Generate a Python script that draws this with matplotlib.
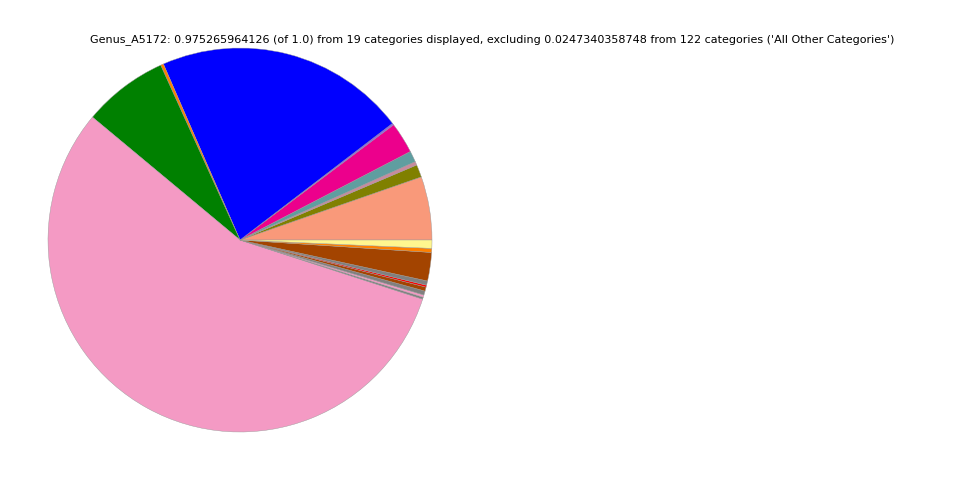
import matplotlib
matplotlib.use("Agg")
import matplotlib.pyplot as plt

# Dados (frações por categoria, sentido anti-horário a partir de 0°)
categorias = [f"Categoria_{i + 1}" for i in range(19)]
valores = [0.0520, 0.0103, 0.0030, 0.0091, 0.0255, 0.0014, 0.2062, 0.0024,
           0.0699, 0.5467, 0.0016, 0.0019, 0.0033, 0.0033, 0.0016, 0.0035,
           0.0233, 0.0033, 0.0068]
cores = ["#F9997A", "#808000", "#C88B9E", "#5F9EA0", "#EC008C", "#8A5CF0",
         "#0000FF", "#FF7F00", "#008000", "#F49AC4", "#808080", "#F49AC4",
         "#808080", "#A34400", "#FF0000", "#808080", "#A34400", "#FF8000",
         "#FFF68F"]

titulo = ("Genus_A5172: 0.975265964126 (of 1.0) from 19 categories displayed, "
          "excluding 0.0247340358748 from 122 categories ('All Other Categories')")

fig = plt.figure(figsize=(9.6, 4.8), dpi=100)
ax = fig.add_axes([0.05, 0.1, 0.4, 0.8])

ax.pie(valores, colors=cores, startangle=0, counterclock=True,
       wedgeprops={"edgecolor": "#999999", "linewidth": 0.3})
ax.set_aspect("equal")
ax.set_xlim(-1, 1)
ax.set_ylim(-1, 1)

fig.text(0.5125, 0.918, titulo, ha="center", va="center", fontsize=8)

fig.savefig("out.png", dpi=100)
